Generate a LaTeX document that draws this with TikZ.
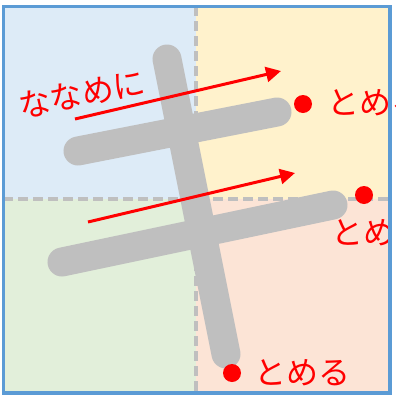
\documentclass[tikz,border=0pt]{standalone}
\usepackage{fontspec}
\newfontfamily\jp{Noto Sans CJK JP}
\usetikzlibrary{arrows.meta}
\definecolor{qblue}{HTML}{DDEBF7}
\definecolor{qyellow}{HTML}{FFF2CC}
\definecolor{qgreen}{HTML}{E2EFDA}
\definecolor{qpink}{HTML}{FCE4D6}
\definecolor{framec}{HTML}{5B9BD5}
\definecolor{strokegray}{HTML}{BFBFBF}
\begin{document}
\begin{tikzpicture}[x=1pt,y=-1pt,
  kanastroke/.style={draw=strokegray, line width=29pt, line cap=round},
  guide/.style={draw=strokegray, line width=3.5pt, dash pattern=on 10pt off 5pt},
  arrowline/.style={draw=red, line width=3pt, -{Triangle[length=15pt,width=15pt]}},
  reddot/.style={circle, fill=red, inner sep=0pt, minimum size=18pt},
  redtext/.style={text=red, font=\jp\fontsize{32}{32}\selectfont, inner sep=0pt}]
\useasboundingbox (0,0) rectangle (396,397);
\clip (0,0) rectangle (396,397);
% quadrants
\fill[qblue] (3,6) rectangle (196,199);
\fill[qyellow] (196,6) rectangle (390,199);
\fill[qgreen] (3,199) rectangle (196,393);
\fill[qpink] (196,199) rectangle (390,393);
\draw[guide] (196,6) -- (196,393);
\draw[guide] (3,199) -- (390,199);
% strokes of the character
\coordinate (h1a) at (78,151);
\coordinate (h1b) at (277,112);
\coordinate (h2a) at (62,262);
\coordinate (h2b) at (333,205);
\coordinate (va) at (167,59);
\coordinate (vb) at (226,354);
\draw[kanastroke] (h1a) -- (h1b);
\draw[kanastroke] (h2a) -- (h2b);
\draw[kanastroke] (va) -- (vb);
% arrows
\coordinate (a1s) at (75,119);
\coordinate (a1e) at (281,71);
\coordinate (a2s) at (88,222);
\coordinate (a2e) at (295,173);
\draw[arrowline] (a1s) -- (a1e);
\draw[arrowline] (a2s) -- (a2e);
% dots
\node[reddot] (d1) at (303,104) {};
\node[reddot] (d2) at (364,195) {};
\node[reddot] (d3) at (232,373) {};
% texts
\node[redtext, rotate=11] (t0) at (82,94) {ななめに};
\node[redtext, anchor=west] (t1) at (327,103) {とめる};
\node[redtext, anchor=west] (t2) at (331,233) {とめる};
\node[redtext, anchor=west] (t3) at (254,373) {とめる};
% frame
\draw[framec, line width=3.5pt] (3.3,6.5) rectangle (390.2,393);
\end{tikzpicture}
\end{document}
